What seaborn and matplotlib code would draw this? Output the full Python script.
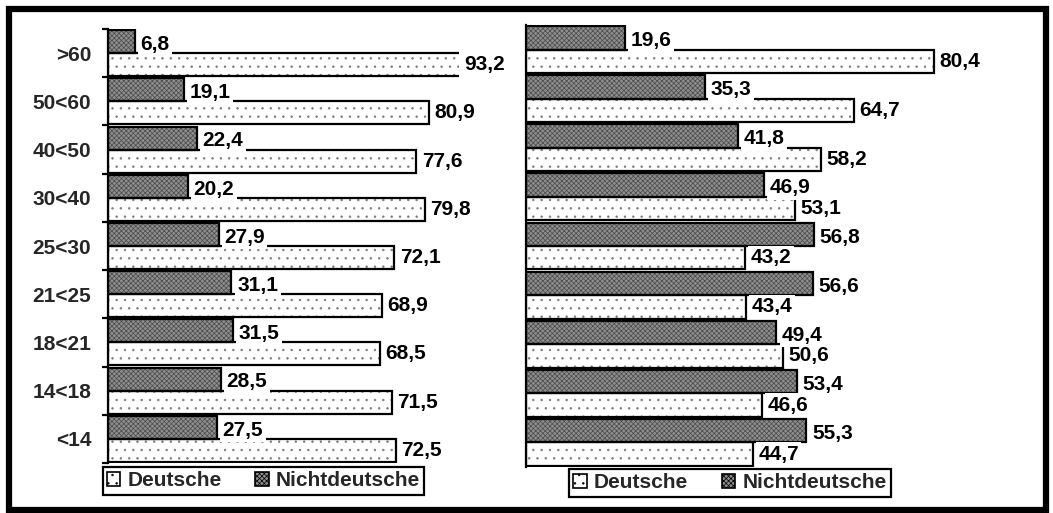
import matplotlib
matplotlib.use("Agg")
import matplotlib.pyplot as plt
from matplotlib.patches import Rectangle, Patch
import numpy as np
import pandas as pd
import seaborn as sns

# Altersgruppen (von oben nach unten)
categories = [">60", "50<60", "40<50", "30<40", "25<30", "21<25", "18<21", "14<18", "<14"]

# Linkes Diagramm: Anteile in %
left_nicht = [6.8, 19.1, 22.4, 20.2, 27.9, 31.1, 31.5, 28.5, 27.5]
left_deut = [93.2, 80.9, 77.6, 79.8, 72.1, 68.9, 68.5, 71.5, 72.5]

# Rechtes Diagramm: Anteile in %
right_nicht = [19.6, 35.3, 41.8, 46.9, 56.8, 56.6, 49.4, 53.4, 55.3]
right_deut = [80.4, 64.7, 58.2, 53.1, 43.2, 43.4, 50.6, 46.6, 44.7]

groups = ["Nichtdeutsche", "Deutsche"]

sns.set_theme(style="white")
plt.rcParams["font.family"] = ["Liberation Sans", "DejaVu Sans"]
plt.rcParams["font.weight"] = "bold"
plt.rcParams["hatch.linewidth"] = 0.5

W, H = 1053, 513
fig = plt.figure(figsize=(W / 100, H / 100), dpi=100)
fig.patch.set_facecolor("white")


def px_axes(x0, y0, x1, y1):
    return fig.add_axes([x0 / W, 1 - y1 / H, (x1 - x0) / W, (y1 - y0) / H])


STYLE = {
    "Nichtdeutsche": dict(face="#8e8e8e", hatch="xxxxxxx", hcolor="#4a4a4a"),
    "Deutsche": dict(face="white", hatch="..", hcolor="#7a7a7a"),
}

FS = 15


def fmt(v):
    return f"{v:.1f}".replace(".", ",")


def draw_panel(ax, nicht, deut, xmax, show_labels):
    df = pd.DataFrame({
        "Alter": categories * 2,
        "Anteil": list(nicht) + list(deut),
        "Gruppe": ["Nichtdeutsche"] * len(categories) + ["Deutsche"] * len(categories),
    })
    sns.barplot(data=df, y="Alter", x="Anteil", hue="Gruppe", hue_order=groups,
                order=categories, orient="h", width=0.955, dodge=True,
                palette={"Nichtdeutsche": "#8e8e8e", "Deutsche": "white"},
                legend=False, ax=ax, saturation=1)
    ax.set_xlim(0, xmax)
    ax.set_ylim(len(categories) - 0.5, -0.5)

    for cont, g, vals in zip(ax.containers, groups, [nicht, deut]):
        st = STYLE[g]
        dy = -2 if g == "Nichtdeutsche" else 0
        for p, v in zip(cont.patches, vals):
            p.set_facecolor(st["face"])
            p.set_hatch(st["hatch"])
            p.set_edgecolor(st["hcolor"])
            p.set_linewidth(0)
            # Umriss separat in Schwarz
            ax.add_patch(Rectangle(p.get_xy(), p.get_width(), p.get_height(),
                                   fill=False, edgecolor="black", linewidth=1.6,
                                   zorder=p.get_zorder() + 0.1))
            yc = p.get_y() + p.get_height() / 2
            ax.annotate(fmt(v), xy=(min(v, xmax), yc), xytext=(4, dy),
                        textcoords="offset points", ha="left", va="center",
                        fontsize=FS, fontweight="bold", color="black",
                        annotation_clip=False, zorder=5,
                        bbox=dict(boxstyle="square,pad=0.12", facecolor="white",
                                  edgecolor="none"))

    for s in ["top", "right", "bottom"]:
        ax.spines[s].set_visible(False)
    ax.spines["left"].set_color("black")
    ax.spines["left"].set_linewidth(1.6)
    ax.set_xticks([])
    ax.set_xlabel("")
    ax.set_ylabel("")
    if show_labels:
        ax.set_yticks(range(len(categories)))
        ax.set_yticklabels(categories, fontsize=FS, fontweight="bold")
        ax.tick_params(axis="y", which="major", length=0, pad=12)
        ax.set_yticks(np.arange(-0.5, len(categories), 1.0), minor=True)
        ax.tick_params(axis="y", which="minor", length=4, width=1.6,
                       direction="out", color="black", left=True)
    else:
        ax.set_yticks([])
    ax.patch.set_alpha(0)


ax_l = px_axes(108, 29, 459, 463)
draw_panel(ax_l, left_nicht, left_deut, 351 / 3.97, True)

ax_r = px_axes(526, 25, 1033, 467)
draw_panel(ax_r, right_nicht, right_deut, 100, False)

handles = [
    Patch(facecolor=STYLE["Deutsche"]["face"], hatch="..",
          edgecolor="black", linewidth=1.2, label="Deutsche"),
    Patch(facecolor=STYLE["Nichtdeutsche"]["face"], hatch=STYLE["Nichtdeutsche"]["hatch"],
          edgecolor="black", linewidth=1.2, label="Nichtdeutsche"),
]

for cx, cy in [(263.5, 481), (730, 483)]:
    leg = fig.legend(handles=handles, loc="center", ncol=2,
                     bbox_to_anchor=(cx / W, 1 - cy / H),
                     prop={"size": FS, "weight": "bold"},
                     fancybox=False, frameon=True, framealpha=1,
                     edgecolor="black", handlelength=0.65, handleheight=0.65,
                     handletextpad=0.35, columnspacing=1.6, borderpad=0.2,
                     borderaxespad=0)
    leg.get_frame().set_linewidth(1.6)

# Rahmen um die gesamte Grafik
fig.add_artist(Rectangle((9 / W, 1 - 510 / H), (1046 - 9) / W, (510 - 8.5) / H,
                         transform=fig.transFigure, fill=False,
                         edgecolor="black", linewidth=4.5))

fig.savefig("out.png", dpi=100, facecolor="white")
